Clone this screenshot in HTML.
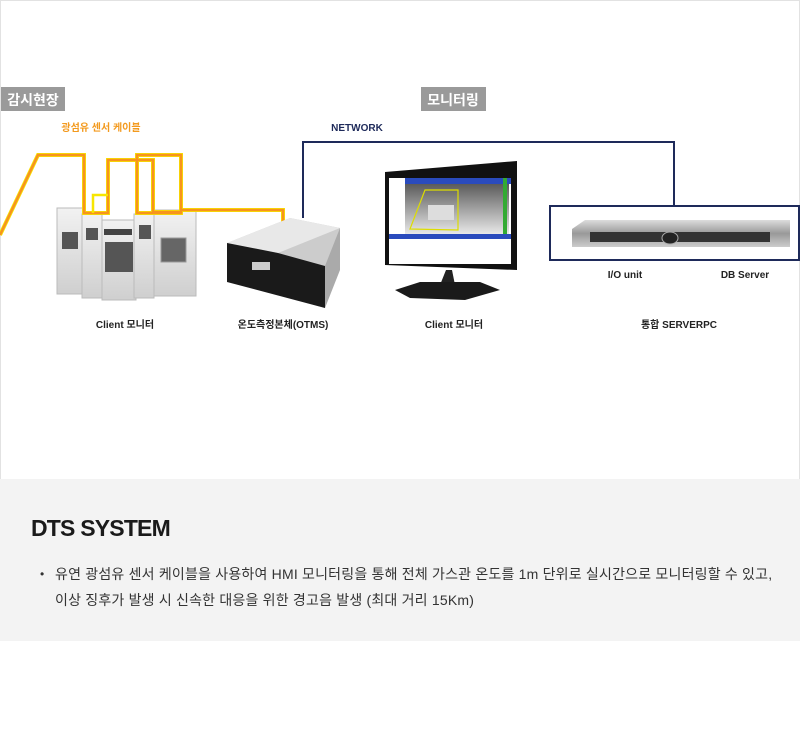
<!DOCTYPE html>
<html><head><meta charset="utf-8"><style>
body{margin:0;width:800px;height:742px;background:#fff;overflow:hidden;font-family:"Liberation Sans","Noto Sans CJK KR",sans-serif}
.top{position:absolute;left:0;top:0;width:798px;height:478px;border:1px solid #e2e2e2}
.panel{position:absolute;left:0;top:479px;width:800px;height:162px;background:#f3f3f3}
h2{position:absolute;left:31px;top:515px;margin:0;font-size:23px;font-weight:bold;color:#1a1a1a;letter-spacing:-0.8px}
.p{position:absolute;left:55px;top:561px;font-size:14px;color:#333;line-height:26px;white-space:nowrap;letter-spacing:0.2px}
.b{position:absolute;left:40px;top:561px;font-size:12px;color:#333;line-height:26px}
</style></head><body>
<div class="top"></div>
<svg width="800" height="480" style="position:absolute;left:0;top:0" font-family="Liberation Sans, Noto Sans CJK KR, sans-serif">
<defs>
<linearGradient id="cab" x1="0" y1="0" x2="0" y2="1"><stop offset="0" stop-color="#f2f2f2"/><stop offset="1" stop-color="#cfcfcf"/></linearGradient>
<linearGradient id="scr" x1="0" y1="0" x2="0" y2="1"><stop offset="0" stop-color="#555"/><stop offset="1" stop-color="#eee"/></linearGradient>
<linearGradient id="rack" x1="0" y1="0" x2="0" y2="1"><stop offset="0" stop-color="#ddd"/><stop offset="0.5" stop-color="#999"/><stop offset="1" stop-color="#ccc"/></linearGradient>
</defs>
<rect x="1" y="87" width="64" height="24" fill="#9a9a9a"/>
<text x="33" y="105" fill="#fff" font-size="14" font-weight="bold" text-anchor="middle">감시현장</text>
<rect x="421" y="87" width="65" height="24" fill="#9a9a9a"/>
<text x="453" y="105" fill="#fff" font-size="14" font-weight="bold" text-anchor="middle">모니터링</text>
<text x="101" y="131" fill="#f39a1e" font-size="10" font-weight="bold" text-anchor="middle">광섬유 센서 케이블</text>
<text x="357" y="131" fill="#1e2a5a" font-size="10" font-weight="bold" text-anchor="middle">NETWORK</text>
<path d="M303 218 V142 H674 V205" fill="none" stroke="#1e2a5a" stroke-width="2"/>
<rect x="550" y="206" width="249" height="54" fill="none" stroke="#1e2a5a" stroke-width="2"/>
<g>
<rect x="57" y="208" width="27" height="86" fill="url(#cab)" stroke="#bbb"/>
<rect x="82" y="214" width="20" height="84" fill="url(#cab)" stroke="#bbb"/>
<rect x="102" y="220" width="34" height="80" fill="url(#cab)" stroke="#bbb"/>
<rect x="134" y="214" width="20" height="84" fill="url(#cab)" stroke="#bbb"/>
<rect x="154" y="210" width="42" height="86" fill="url(#cab)" stroke="#bbb"/>
<rect x="62" y="232" width="16" height="17" fill="#555"/>
<rect x="86" y="228" width="12" height="12" fill="#555"/>
<rect x="105" y="242" width="28" height="30" fill="#555"/>
<rect x="104" y="229" width="28" height="6" fill="#444"/>
<rect x="139" y="225" width="12" height="14" fill="#555"/>
<rect x="161" y="238" width="25" height="24" fill="#666" stroke="#999"/>
</g>
<g fill="none">
<path d="M0 235 L38 155 H84 V213 H108 V160 H153 V212 H181 V155 H137 V213 H181 V210 H283 V223" stroke="#f7e600" stroke-width="4"/>
<path d="M0 235 L38 155 H84 V213 H108 V160 H153 V212 H181 V155 H137 V213 H181 V210 H283 V223" stroke="#f7941d" stroke-width="2.5"/>
<path d="M93 213 V195 H108" stroke="#f7e600" stroke-width="2.5"/>
</g>
<polygon points="227,243 290,218 340,228 340,265 325,308 227,280" fill="#ccc"/>
<polygon points="227,243 290,218 340,228 278,253" fill="#e8e8e8"/>
<polygon points="227,243 278,253 325,266 325,308 227,282" fill="#1a1a1a"/>
<polygon points="325,266 340,228 340,270 325,308" fill="#aaa"/>
<rect x="252" y="262" width="18" height="8" fill="#ccc"/>
<polygon points="385,172 517,161 517,270 385,265" fill="#111"/>
<rect x="389" y="178" width="122" height="86" fill="#fff"/>
<rect x="405" y="182" width="104" height="54" fill="url(#scr)"/>
<rect x="405" y="178" width="106" height="6" fill="#2a4bbd"/>
<rect x="503" y="178" width="4" height="60" fill="#3a3"/>
<rect x="389" y="234" width="122" height="5" fill="#2a4bbd"/>
<path d="M410 229 L425 190 H458 V230 Z" fill="none" stroke="#dd0" stroke-width="1.2"/>
<rect x="428" y="205" width="26" height="15" fill="#ddd"/>
<polygon points="446,270 452,270 455,285 440,285" fill="#222"/>
<polygon points="395,290 420,282 480,282 500,290 465,300 410,298" fill="#1a1a1a"/>
<polygon points="572,229 585,220 790,220 790,247 572,247" fill="url(#rack)"/>
<rect x="590" y="232" width="180" height="10" fill="#333"/>
<ellipse cx="670" cy="238" rx="8" ry="6" fill="#222" stroke="#aaa"/>
<text x="625" y="278" font-size="10" font-weight="bold" fill="#222" text-anchor="middle">I/O unit</text>
<text x="745" y="278" font-size="10" font-weight="bold" fill="#222" text-anchor="middle">DB Server</text>
<text x="125" y="328" font-size="10" font-weight="bold" fill="#222" text-anchor="middle">Client 모니터</text>
<text x="283" y="328" font-size="10" font-weight="bold" fill="#222" text-anchor="middle">온도측정본체(OTMS)</text>
<text x="454" y="328" font-size="10" font-weight="bold" fill="#222" text-anchor="middle">Client 모니터</text>
<text x="679" y="328" font-size="10" font-weight="bold" fill="#222" text-anchor="middle">통합 SERVERPC</text>
</svg>
<div class="panel"></div>
<h2>DTS SYSTEM</h2>
<div class="b">•</div>
<div class="p">유연 광섬유 센서 케이블을 사용하여 HMI 모니터링을 통해 전체 가스관 온도를 1m 단위로 실시간으로 모니터링할 수 있고,<br>이상 징후가 발생 시 신속한 대응을 위한 경고음 발생 (최대 거리 15Km)</div>
</body></html>
